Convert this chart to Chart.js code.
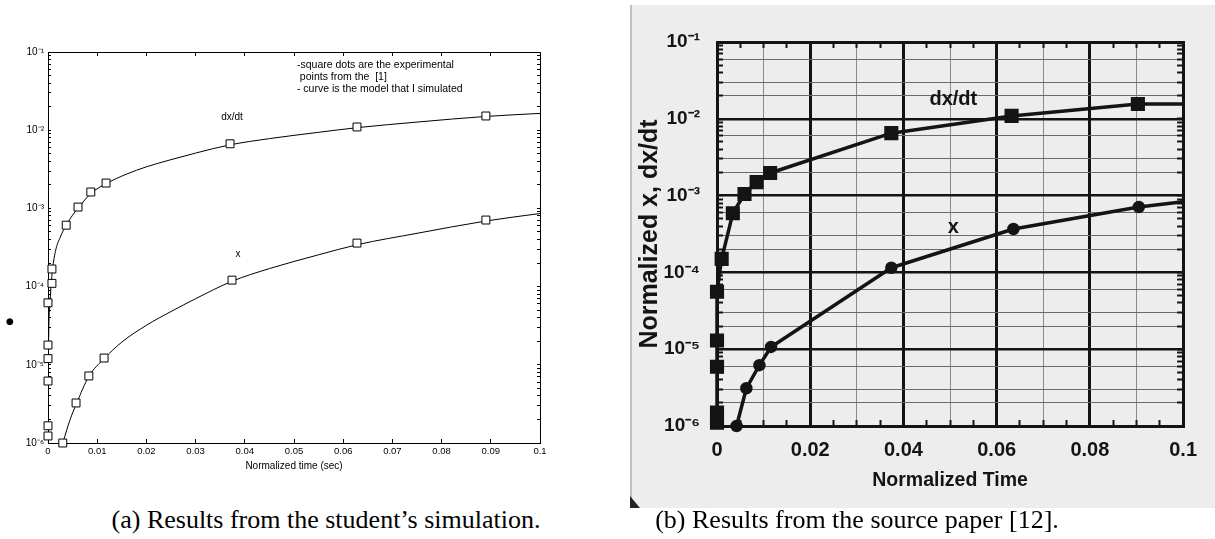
<!DOCTYPE html>
<html>
<head>
<meta charset="utf-8">
<script src="https://cdn.jsdelivr.net/npm/chart.js@4.4.1/dist/chart.umd.min.js"></script>
<style>
  body { margin: 0; background: #fff; }
  #wrap { position: relative; width: 1215px; height: 539px; overflow: hidden; }
  canvas { position: absolute; top: 0; }
  #simulacion { left: 0; }
  #fuente { left: 600px; }
  .cap { position: absolute; top: 505px; line-height: 30px; font-family: "Liberation Serif", "Times New Roman", serif;
         font-size: 26px; white-space: nowrap; transform: translateX(-50%); color: #000; }
</style>
</head>
<body>
<div id="wrap">
  <canvas id="simulacion" width="600" height="500"></canvas>
  <canvas id="fuente" width="615" height="510"></canvas>
  <div class="cap" style="left:326px">(a) Results from the student’s simulation.</div>
  <div class="cap" style="left:857px">(b) Results from the source paper [12].</div>
</div>
<script>
// (a) simulacion: curvas del modelo
const tiempoModelo = [0, 0.0001, 0.0004, 0.0008, 0.0015, 0.0025, 0.0037, 0.005, 0.0062, 0.0087, 0.012, 0.016, 0.02, 0.025, 0.03, 0.037, 0.045, 0.055, 0.063, 0.075, 0.089, 0.1];
const dxdtModelo = [1e-6, 1.5e-5, 6e-5, 1.4e-4, 2.8e-4, 4.3e-4, 6.1e-4, 8.2e-4, 1.02e-3, 1.55e-3, 2.1e-3, 2.75e-3, 3.4e-3, 4.2e-3, 5.1e-3, 6.5e-3, 7.8e-3, 9.4e-3, 1.08e-2, 1.27e-2, 1.5e-2, 1.64e-2];
const tiempoModeloX = [0.003, 0.0045, 0.0058, 0.0083, 0.0114, 0.015, 0.02, 0.025, 0.03, 0.0374, 0.045, 0.055, 0.063, 0.075, 0.089, 0.1];
const xModelo = [1e-6, 2.0e-6, 3.2e-6, 7.1e-6, 1.2e-5, 1.95e-5, 3.2e-5, 4.8e-5, 7.0e-5, 1.17e-4, 1.7e-4, 2.55e-4, 3.45e-4, 4.8e-4, 6.9e-4, 8.6e-4];

// (a) puntos experimentales (cuadrados)
const tiempoExpDxdt = [0, 0, 0.0008, 0.0008, 0.0037, 0.0061, 0.0087, 0.0118, 0.037, 0.0628, 0.089];
const dxdtExp = [1.2e-5, 6.2e-5, 1.1e-4, 1.68e-4, 6.1e-4, 1.04e-3, 1.62e-3, 2.11e-3, 6.7e-3, 1.1e-2, 1.52e-2];
const tiempoExpX = [0, 0, 0, 0, 0.003, 0.0057, 0.0083, 0.0114, 0.0374, 0.0628, 0.089];
const xExp = [1.23e-6, 1.66e-6, 6.2e-6, 1.79e-5, 1e-6, 3.25e-6, 7.2e-6, 1.22e-5, 1.21e-4, 3.6e-4, 7.1e-4];

// (b) articulo fuente (ultimo valor = fin de la linea en el borde)
const tiempoFuenteDxdt = [0, 0, 0, 0, 0, 0.001, 0.0034, 0.0059, 0.0085, 0.0114, 0.0374, 0.0632, 0.0903, 0.1];
const dxdtFuente = [1.1e-6, 1.5e-6, 5.9e-6, 1.3e-5, 5.6e-5, 1.5e-4, 5.9e-4, 1.05e-3, 1.5e-3, 1.97e-3, 6.5e-3, 1.09e-2, 1.56e-2, 1.56e-2];
const tiempoFuenteX = [0.0042, 0.0063, 0.0091, 0.0116, 0.0374, 0.0636, 0.0905, 0.1];
const xFuente = [1e-6, 3.1e-6, 6.2e-6, 1.07e-5, 1.15e-4, 3.67e-4, 7.1e-4, 8.3e-4];

// etiquetas de ejes
const etiquetasTiempoA = ['0', '0.01', '0.02', '0.03', '0.04', '0.05', '0.06', '0.07', '0.08', '0.09', '0.1'];
const etiquetasTiempoB = ['0', '0.02', '0.04', '0.06', '0.08', '0.1'];
const etiquetasDecadas = ['10⁻⁶', '10⁻⁵', '10⁻⁴', '10⁻³', '10⁻²', '10⁻¹'];
const notas = ['-square dots are the experimental', ' points from the  [1]', '- curve is the model that I simulated'];

const pares = (t, v) => t.map((x, i) => ({ x: x, y: v[i] }));

function esDecada(v) {
  const e = Math.log10(v);
  return Math.abs(e - Math.round(e)) < 1e-6;
}
function etiquetaDecada(v) {
  return esDecada(v) ? etiquetasDecadas[Math.round(Math.log10(v)) + 6] : '';
}
// quitar los ticks 1.5x que agrega chart.js
function soloEnteros(scale) {
  scale.ticks = scale.ticks.filter(t => {
    const m = t.value / Math.pow(10, Math.floor(Math.log10(t.value) + 1e-9));
    return Math.abs(m - Math.round(m)) < 1e-6;
  });
}

const SANS = '"Liberation Sans", Arial, sans-serif';
Chart.defaults.font.family = SANS;

// ---------- (a) ----------
const textosA = {
  id: 'textosA',
  afterDraw(chart) {
    const { ctx } = chart;
    const x = chart.scales.x, y = chart.scales.y;
    ctx.save();
    ctx.fillStyle = '#000';
    ctx.font = '10px ' + SANS;
    ctx.textAlign = 'center';
    ctx.textBaseline = 'middle';
    ctx.fillText('dx/dt', x.getPixelForValue(0.0374), y.getPixelForValue(1.48e-2));
    ctx.fillText('x', x.getPixelForValue(0.0386), y.getPixelForValue(2.6e-4));
    ctx.textAlign = 'left';
    ctx.font = '10.5px ' + SANS;
    const x0 = x.getPixelForValue(0.0506), y0 = y.getPixelForValue(6.8e-2);
    notas.forEach((n, i) => ctx.fillText(n, x0, y0 + i * 12));
    ctx.font = 'bold 9px "DejaVu Sans"';
    ctx.textAlign = 'center';
    ctx.fillText('●', 10, 322);
    ctx.restore();
  }
};

const ejeLinA = (pos) => ({
  type: 'linear', position: pos, min: 0, max: 0.1,
  afterFit: s => { s.height = pos === 'bottom' ? 30 : 0; },
  ticks: {
    stepSize: 0.01, autoSkip: false, maxRotation: 0, padding: 7, color: '#000', font: { size: 9.5 },
    callback: (v, i) => pos === 'bottom' ? etiquetasTiempoA[i] : ''
  },
  grid: { drawOnChartArea: false, tickLength: -4, color: '#000' },
  border: { color: '#000', width: 1 },
  title: { display: pos === 'bottom', text: 'Normalized time (sec)', color: '#000', font: { size: 10 }, padding: { top: 0, bottom: 1 } }
});
const ejeLogA = (pos) => ({
  type: 'logarithmic', position: pos, min: 1e-6, max: 1e-1,
  afterFit: s => { s.width = pos === 'left' ? 48 : 0; },
  afterBuildTicks: soloEnteros,
  ticks: {
    autoSkip: false, padding: 7, color: '#000', font: { size: 10 },
    callback: v => pos === 'left' ? etiquetaDecada(v) : ''
  },
  grid: { drawOnChartArea: false, tickLength: -3, color: '#000' },
  border: { color: '#000', width: 1 }
});

new Chart(document.getElementById('simulacion'), {
  type: 'scatter',
  data: {
    datasets: [
      { label: 'dx/dt exp', data: pares(tiempoExpDxdt, dxdtExp), pointStyle: 'rect', pointRadius: 5.6,
        backgroundColor: '#fff', borderColor: '#000', borderWidth: 1, clip: false },
      { label: 'x exp', data: pares(tiempoExpX, xExp), pointStyle: 'rect', pointRadius: 5.6,
        backgroundColor: '#fff', borderColor: '#000', borderWidth: 1, clip: false },
      { label: 'dx/dt', data: pares(tiempoModelo, dxdtModelo), showLine: true, pointRadius: 0,
        borderColor: '#000', borderWidth: 1, cubicInterpolationMode: 'monotone' },
      { label: 'x', data: pares(tiempoModeloX, xModelo), showLine: true, pointRadius: 0,
        borderColor: '#000', borderWidth: 1, cubicInterpolationMode: 'monotone' }
    ]
  },
  options: {
    responsive: false, animation: false, devicePixelRatio: 1,
    layout: { padding: { top: 52, right: 60, bottom: 27, left: 0 } },
    plugins: { legend: { display: false }, tooltip: { enabled: false } },
    scales: { x: ejeLinA('bottom'), x2: ejeLinA('top'), y: ejeLogA('left'), y2: ejeLogA('right') }
  },
  plugins: [textosA]
});

// ---------- (b) ----------
const NEGRO = '#141414';
const papel = {
  id: 'papel',
  beforeDraw(chart) {
    const { ctx } = chart;
    ctx.save();
    ctx.fillStyle = '#ededed';
    ctx.fillRect(30, 5, 585, 503);
    ctx.strokeStyle = '#b0b0b0';
    ctx.lineWidth = 1.5;
    ctx.beginPath(); ctx.moveTo(31, 5); ctx.lineTo(31, 508); ctx.stroke();
    // esquina oscura del escaneo
    ctx.fillStyle = '#222';
    ctx.beginPath(); ctx.moveTo(30, 496); ctx.lineTo(40, 508); ctx.lineTo(30, 508); ctx.closePath(); ctx.fill();
    ctx.restore();
  },
  afterDraw(chart) {
    const { ctx } = chart;
    const x = chart.scales.x, y = chart.scales.y;
    ctx.save();
    ctx.fillStyle = NEGRO;
    ctx.font = 'bold 20px ' + SANS;
    ctx.textAlign = 'center';
    ctx.textBaseline = 'middle';
    ctx.fillText('dx/dt', x.getPixelForValue(0.0507), y.getPixelForValue(1.76e-2));
    ctx.fillText('x', x.getPixelForValue(0.0507), y.getPixelForValue(3.9e-4));
    ctx.restore();
  }
};

const rejillaX = c => {
  const k = Math.round(c.tick.value / 0.005);
  if (k % 4 === 0) return NEGRO;
  return k % 2 === 0 ? '#8a8a8a' : 'rgba(0,0,0,0)';
};
const rejillaY = c => {
  const v = c.tick.value;
  if (esDecada(v)) return NEGRO;
  const m = Math.round(v / Math.pow(10, Math.floor(Math.log10(v) + 1e-9)));
  return (m === 2 || m === 3 || m === 6) ? '#6a6a6a' : 'rgba(0,0,0,0)';
};

const ejeLinB = (pos) => ({
  type: 'linear', position: pos, min: 0, max: 0.1,
  afterFit: s => { s.height = pos === 'bottom' ? 66 : 0; },
  ticks: {
    stepSize: 0.005, autoSkip: false, maxRotation: 0, padding: 18, color: NEGRO,
    font: { size: 20, weight: 'bold' },
    callback: (v, i) => (pos === 'bottom' && i % 4 === 0) ? etiquetasTiempoB[i / 4] : ''
  },
  grid: pos === 'bottom'
    ? { color: rejillaX, lineWidth: c => Math.round(c.tick.value / 0.005) % 4 === 0 ? 3 : 1,
        tickColor: NEGRO, tickWidth: 2, tickLength: -6 }
    : { drawOnChartArea: false, tickColor: NEGRO, tickWidth: 2, tickLength: -6 },
  border: { color: NEGRO, width: 3 },
  title: { display: pos === 'bottom', text: 'Normalized Time', color: NEGRO,
           font: { size: 19.5, weight: 'bold' }, padding: { top: 0, bottom: 0 } }
});
const ejeLogB = (pos) => ({
  type: 'logarithmic', position: pos, min: 1e-6, max: 1e-1,
  afterFit: s => { s.width = pos === 'left' ? 117 : 0; },
  afterBuildTicks: soloEnteros,
  ticks: {
    autoSkip: false, padding: 23, color: NEGRO, font: { size: 19, weight: 'bold' },
    callback: v => pos === 'left' ? etiquetaDecada(v) : ''
  },
  grid: pos === 'left'
    ? { color: rejillaY, lineWidth: c => esDecada(c.tick.value) ? 2.5 : 1,
        tickColor: NEGRO, tickWidth: 2, tickLength: -6 }
    : { drawOnChartArea: false, tickColor: NEGRO, tickWidth: 2, tickLength: -6 },
  border: { color: NEGRO, width: 3 },
  title: { display: pos === 'left', text: 'Normalized x, dx/dt', color: NEGRO,
           font: { size: 25, weight: 'bold' }, padding: { top: 35, bottom: 0 } }
});

const sinUltimo = r => c => c.dataIndex === c.dataset.data.length - 1 ? 0 : r;

new Chart(document.getElementById('fuente'), {
  type: 'scatter',
  data: {
    datasets: [
      { label: 'dx/dt', data: pares(tiempoFuenteDxdt, dxdtFuente), showLine: true, pointStyle: 'rect',
        pointRadius: sinUltimo(7.5), backgroundColor: NEGRO, borderColor: NEGRO, borderWidth: 3.5,
        borderJoinStyle: 'round', clip: false },
      { label: 'x', data: pares(tiempoFuenteX, xFuente), showLine: true, pointStyle: 'circle',
        pointRadius: sinUltimo(4.5), backgroundColor: NEGRO, borderColor: NEGRO, borderWidth: 3.5,
        borderJoinStyle: 'round', clip: false }
    ]
  },
  options: {
    responsive: false, animation: false, devicePixelRatio: 1,
    layout: { padding: { top: 42, right: 23, bottom: 18, left: 0 } },
    plugins: { legend: { display: false }, tooltip: { enabled: false } },
    scales: { x: ejeLinB('bottom'), x2: ejeLinB('top'), y: ejeLogB('left'), y2: ejeLogB('right') }
  },
  plugins: [papel]
});
</script>
</body>
</html>
